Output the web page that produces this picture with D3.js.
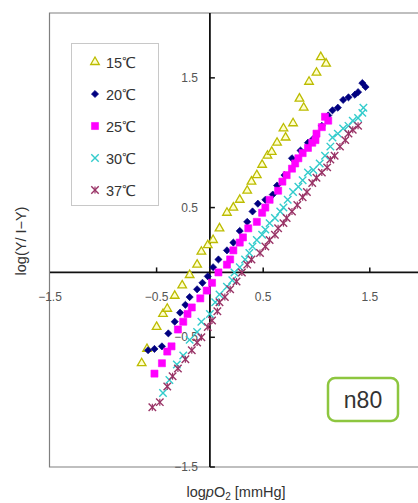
<!DOCTYPE html>
<html lang="ja">
<head>
  <meta charset="UTF-8">
  <title>Hill plot n80</title>
  <script src="https://d3js.org/d3.v7.min.js"></script>
  <style>
    body { margin: 0; background: #fff; }
    svg text { font-family: "Liberation Sans", Arial, sans-serif; }
  </style>
</head>
<body>
<svg id="chart" width="418" height="503"></svg>
<script>
  // log pO2 vs log(Y/(1-Y)), one array per temperature: [x, y]
  const temps = ['15℃', '20℃', '25℃', '30℃', '37℃'];

  const s15 = [
    [-0.64, -0.70], [-0.59, -0.59], [-0.50, -0.42], [-0.44, -0.32], [-0.40, -0.28],
    [-0.33, -0.18], [-0.26, -0.10], [-0.19, -0.02], [-0.12, 0.06], [-0.08, 0.16],
    [-0.02, 0.21], [0.03, 0.25], [0.09, 0.34], [0.16, 0.46], [0.22, 0.50],
    [0.28, 0.56], [0.35, 0.63], [0.39, 0.70], [0.44, 0.75], [0.49, 0.83],
    [0.54, 0.90], [0.58, 0.93], [0.63, 1.00], [0.69, 1.11], [0.71, 1.04],
    [0.78, 1.15], [0.84, 1.34], [0.88, 1.27], [0.93, 1.47], [1.00, 1.54],
    [1.04, 1.66], [1.09, 1.61]
  ];
  const s20 = [
    [-0.58, -0.60], [-0.52, -0.59], [-0.45, -0.57], [-0.39, -0.47], [-0.33, -0.38],
    [-0.28, -0.31], [-0.23, -0.25], [-0.19, -0.19], [-0.12, -0.13], [-0.07, -0.08],
    [-0.02, -0.03], [0.03, 0.04], [0.08, 0.10], [0.16, 0.17], [0.22, 0.23],
    [0.28, 0.32], [0.35, 0.39], [0.40, 0.47], [0.45, 0.53], [0.52, 0.56],
    [0.59, 0.60], [0.63, 0.67], [0.70, 0.75], [0.77, 0.88], [0.85, 0.94],
    [0.92, 1.00], [0.97, 1.03], [1.05, 1.13], [1.11, 1.21], [1.15, 1.25],
    [1.20, 1.27], [1.25, 1.33], [1.30, 1.35], [1.36, 1.37], [1.39, 1.39],
    [1.43, 1.46], [1.46, 1.43]
  ];
  const s25 = [
    [-0.52, -0.78], [-0.45, -0.70], [-0.40, -0.61], [-0.36, -0.57], [-0.30, -0.44],
    [-0.25, -0.38], [-0.21, -0.32], [-0.17, -0.27], [-0.09, -0.20], [-0.03, -0.14],
    [0.02, -0.08], [0.08, 0.00], [0.16, 0.06], [0.19, 0.10], [0.22, 0.17],
    [0.28, 0.23], [0.31, 0.27], [0.36, 0.34], [0.44, 0.39], [0.49, 0.46],
    [0.52, 0.50], [0.56, 0.56], [0.64, 0.63], [0.68, 0.70], [0.72, 0.75],
    [0.77, 0.80], [0.80, 0.84], [0.83, 0.88], [0.87, 0.92], [0.92, 0.96],
    [0.96, 1.00], [0.99, 1.02], [1.00, 1.07], [1.05, 1.12], [1.08, 1.20],
    [1.11, 1.17]
  ];
  const s30 = [
    [-0.44, -0.93], [-0.38, -0.83], [-0.31, -0.71], [-0.25, -0.64], [-0.19, -0.52],
    [-0.12, -0.46], [-0.08, -0.38], [0.00, -0.32], [0.05, -0.23], [0.09, -0.17],
    [0.16, -0.11], [0.21, -0.06], [0.23, 0.00], [0.28, 0.04], [0.33, 0.10],
    [0.37, 0.15], [0.40, 0.20], [0.44, 0.25], [0.49, 0.29], [0.52, 0.33],
    [0.56, 0.38], [0.61, 0.42], [0.66, 0.47], [0.69, 0.50], [0.73, 0.56],
    [0.78, 0.62], [0.83, 0.66], [0.87, 0.71], [0.92, 0.77], [0.97, 0.79],
    [1.03, 0.84], [1.08, 0.90], [1.13, 0.97], [1.15, 1.04], [1.20, 1.07],
    [1.25, 1.11], [1.30, 1.13], [1.34, 1.17], [1.39, 1.19], [1.43, 1.23],
    [1.44, 1.27]
  ];
  const s37 = [
    [-0.54, -1.04], [-0.47, -1.00], [-0.40, -0.88], [-0.35, -0.80], [-0.30, -0.74],
    [-0.23, -0.67], [-0.17, -0.60], [-0.12, -0.54], [-0.08, -0.50], [-0.02, -0.42],
    [0.02, -0.37], [0.07, -0.30], [0.09, -0.23], [0.14, -0.19], [0.19, -0.13],
    [0.25, -0.07], [0.30, 0.00], [0.35, 0.06], [0.39, 0.10], [0.47, 0.15],
    [0.52, 0.20], [0.56, 0.25], [0.61, 0.29], [0.64, 0.34], [0.69, 0.38],
    [0.72, 0.42], [0.77, 0.47], [0.82, 0.52], [0.87, 0.58], [0.91, 0.62],
    [0.96, 0.69], [1.00, 0.73], [1.05, 0.77], [1.10, 0.81], [1.13, 0.87],
    [1.17, 0.90], [1.22, 0.97], [1.27, 1.02], [1.30, 1.07], [1.34, 1.10],
    [1.39, 1.13]
  ];

  const xTicks = [-1.5, -0.5, 0.5, 1.5];
  const yTicks = [1.5, 0.5, -0.5, -1.5];

  const series = [s15, s20, s25, s30, s37];
  const colors = ['#bcbc00', '#000080', '#ff00ff', '#33cccc', '#993366'];

  const svg = d3.select('#chart');
  const plotLeft = 50, plotTop = 13, plotBottom = 467;

  const x = d3.scaleLinear().domain([-1.5, 2.0]).range([plotLeft, plotLeft + 3.5 * 106.6]);
  const y = d3.scaleLinear().domain([-1.5, 2.0]).range([plotBottom, plotTop]);

  // frame
  svg.append('path')
    .attr('d', `M418,${plotTop}H${plotLeft - 0.5}V${plotBottom}H418`)
    .attr('fill', 'none')
    .attr('stroke', '#808080')
    .attr('stroke-width', 1.2);

  // axes through the origin
  svg.append('line')
    .attr('x1', x(0)).attr('x2', x(0)).attr('y1', plotTop).attr('y2', plotBottom)
    .attr('stroke', '#111').attr('stroke-width', 1.8);
  svg.append('line')
    .attr('x1', plotLeft).attr('x2', 418).attr('y1', y(0)).attr('y2', y(0))
    .attr('stroke', '#111').attr('stroke-width', 1.8);

  svg.selectAll('line.xtick').data(xTicks.slice(1)).enter()
    .append('line')
    .attr('class', 'xtick')
    .attr('x1', d => x(d)).attr('x2', d => x(d))
    .attr('y1', y(0)).attr('y2', y(0) - 5)
    .attr('stroke', '#111').attr('stroke-width', 1.5);

  svg.selectAll('line.ytick').data(yTicks).enter()
    .append('line')
    .attr('class', 'ytick')
    .attr('x1', x(0)).attr('x2', x(0) + 5)
    .attr('y1', d => y(d)).attr('y2', d => y(d))
    .attr('stroke', '#111').attr('stroke-width', 1.5);

  svg.selectAll('text.xlab').data(xTicks).enter()
    .append('text')
    .attr('class', 'xlab')
    .attr('x', d => x(d))
    .attr('y', y(0) + 29)
    .attr('text-anchor', 'middle')
    .attr('font-size', 12)
    .attr('fill', '#555')
    .text(d => d3.format('.1f')(d).replace('-', '−'));

  svg.selectAll('text.ylab').data(yTicks).enter()
    .append('text')
    .attr('class', 'ylab')
    .attr('x', x(0) - 12)
    .attr('y', d => y(d) + 4)
    .attr('text-anchor', 'end')
    .attr('font-size', 12)
    .attr('fill', '#555')
    .text(d => d3.format('.1f')(d).replace('-', '−'));

  // axis titles
  svg.append('text')
    .attr('transform', `translate(26,${241}) rotate(-90)`)
    .attr('text-anchor', 'middle')
    .attr('font-size', 14.5)
    .attr('fill', '#333')
    .text('log(Y/ I−Y)');

  const xt = svg.append('text')
    .attr('x', 236).attr('y', 497)
    .attr('text-anchor', 'middle')
    .attr('font-size', 14.5)
    .attr('fill', '#333');
  xt.append('tspan').text('log');
  xt.append('tspan').attr('font-style', 'italic').text('p');
  xt.append('tspan').text('O');
  xt.append('tspan').attr('font-size', 10).attr('dy', 3).text('2');
  xt.append('tspan').attr('dy', -3).text(' [mmHg]');

  // marker shapes
  const sym = [
    d3.symbol().type(d3.symbolTriangle).size(32),
    d3.symbol().type(d3.symbolSquare).size(26),
    d3.symbol().type(d3.symbolSquare).size(50),
    d3.symbol().type(d3.symbolX).size(38),
    d3.symbol().type(d3.symbolX).size(38)
  ];

  function drawMarker(g, i) {
    g.append('path')
      .attr('d', sym[i]())
      .attr('transform', i === 1 ? 'rotate(45)' : null)
      .attr('fill', i === 0 ? '#ffffcc' : (i === 3 || i === 4 ? 'none' : colors[i]))
      .attr('stroke', colors[i])
      .attr('stroke-width', i === 0 ? 1.3 : (i >= 3 ? 1.4 : 0.6));
    if (i === 4) {
      g.append('line')
        .attr('y1', -3.5).attr('y2', 3.5)
        .attr('stroke', colors[i]).attr('stroke-width', 1.2);
    }
  }

  series.forEach((s, i) => {
    const grp = svg.append('g').attr('class', 's' + i);
    grp.selectAll('g').data(s).enter()
      .append('g')
      .attr('transform', d => `translate(${x(d[0])},${y(d[1])})`)
      .each(function() { drawMarker(d3.select(this), i); });
  });

  // legend
  const leg = svg.append('g');
  leg.append('rect')
    .attr('x', 71.5).attr('y', 43.5).attr('width', 87).attr('height', 162)
    .attr('fill', '#fff').attr('stroke', '#c8c8c8');
  temps.forEach((t, i) => {
    const row = leg.append('g').attr('transform', `translate(95,${62 + i * 32})`);
    drawMarker(row, i);
    row.append('text')
      .attr('x', 11).attr('y', 5.5)
      .attr('font-size', 14.5)
      .attr('fill', '#333')
      .text(t);
  });

  // n80 label
  svg.append('rect')
    .attr('x', 328).attr('y', 378).attr('width', 70).attr('height', 43)
    .attr('rx', 7)
    .attr('fill', '#fff')
    .attr('stroke', '#8dc63f')
    .attr('stroke-width', 2.5);
  svg.append('text')
    .attr('x', 363).attr('y', 408)
    .attr('text-anchor', 'middle')
    .attr('font-size', 23)
    .attr('fill', '#333')
    .text('n80');
</script>
</body>
</html>
